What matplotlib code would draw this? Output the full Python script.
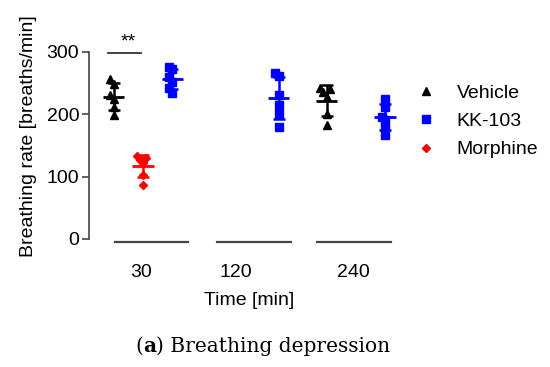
import matplotlib.pyplot as plt
import numpy as np

plt.rcParams['font.family'] = ['Liberation Sans', 'DejaVu Sans']

time_labels = ['30', '120', '240']

# breathing rate per animal [breaths/min]
vehicle_30 = [256, 249, 231, 224, 212, 199]
vehicle_240 = [243, 241, 236, 228, 200, 183]
kk103_30 = [276, 273, 260, 252, 242, 235]
kk103_120 = [266, 262, 231, 215, 201, 180]
kk103_240 = [225, 212, 196, 191, 180, 167]
morphine_30 = [133, 130, 127, 122, 103, 87]

# (label, colour, marker, size, offset in group, {group index: values})
series = [
    ('Vehicle', 'black', '^', 6, -0.275, {0: vehicle_30, 2: vehicle_240}),
    ('KK-103', '#0000ff', 's', 6, 0.275, {0: kk103_30, 1: kk103_120, 2: kk103_240}),
    ('Morphine', '#ff0000', 'D', 4.5, 0.0, {0: morphine_30}),
]


def spread(vals, step=0.03, tol=9):
    # little prism-like scatter for points with close values
    vals = np.asarray(vals, dtype=float)
    offs = np.zeros(len(vals))
    order = np.argsort(vals)
    k = 0
    for j in range(1, len(order)):
        if abs(vals[order[j]] - vals[order[j - 1]]) < tol:
            k += 1
        else:
            k = 0
        offs[order[j]] = step * ((k + 1) // 2) * (-1) ** k
    return offs


fig = plt.figure(figsize=(5.5, 3.67), dpi=100)
ax = fig.add_axes([0.1618, 0.3488, 0.5818, 0.5605])

handles = []
for name, col, mk, ms, off, groups in series:
    for g, vals in groups.items():
        x = g + off + spread(vals)
        ax.plot(x, vals, mk, color=col, ms=ms, mec=col, zorder=2)
        m = np.mean(vals)
        sd = np.std(vals, ddof=1)
        ax.errorbar(g + off, m, yerr=sd, color=col, capsize=4.2, capthick=1.8,
                    elinewidth=1.8, zorder=3)
        ax.hlines(m, g + off - 0.1, g + off + 0.1, color=col, lw=2, zorder=3)
    h, = ax.plot([], [], mk, color=col, ms=ms, label=name)
    handles.append(h)

# significance bar vehicle vs morphine at 30 min
ax.plot([-0.33, -0.02], [298, 298], color='#333333', lw=1.3, clip_on=False)
ax.text(-0.14, 302, '**', ha='center', va='bottom', fontsize=14)

# prism-style x axis pieces under each group
seg_left = [-0.26, -0.30, -0.36]
seg_right = [0.42, 0.39, 0.33]
for g in range(3):
    ax.plot([g + seg_left[g], g + seg_right[g]], [-5, -5], color='#444444', lw=1.6,
            clip_on=False)

ax.set_xlim(-0.507, 2.5)
ax.set_ylim(0, 330)
ax.set_yticks([0, 100, 200, 300])
ax.spines['left'].set_bounds(0, 300)
ax.spines['left'].set_color('#444444')
ax.spines['left'].set_linewidth(1.2)
for s in ['top', 'right', 'bottom']:
    ax.spines[s].set_visible(False)
ax.set_xticks([-0.02, 0.87, 1.98])
ax.set_xticklabels(time_labels)
ax.tick_params(axis='x', length=0, pad=18, labelsize=14)
ax.tick_params(axis='y', length=5, width=1.2, color='#444444', pad=2, labelsize=14)
ax.set_xlabel('Time [min]', fontsize=14, labelpad=8)
ax.set_ylabel('Breathing rate [breaths/min]', fontsize=14, labelpad=7)

ax.legend(handles=handles, loc='upper left', bbox_to_anchor=(0.997, 0.79), frameon=False,
          fontsize=14, handlelength=1.0, handletextpad=1.1, labelspacing=0.55,
          borderaxespad=0)

# caption, with the bold panel letter
t1 = fig.text(135 / 550, 1 - 352 / 367, '(', fontsize=14.5, family='DejaVu Serif')
a2 = ax.annotate('a', xy=(1, 0), xycoords=t1, va='bottom', fontsize=14.5,
                 family='DejaVu Serif', weight='bold')
ax.annotate(') Breathing depression', xy=(1, 0), xycoords=a2, va='bottom', fontsize=14.5,
            family='DejaVu Serif')

fig.savefig('out.png', dpi=100)
